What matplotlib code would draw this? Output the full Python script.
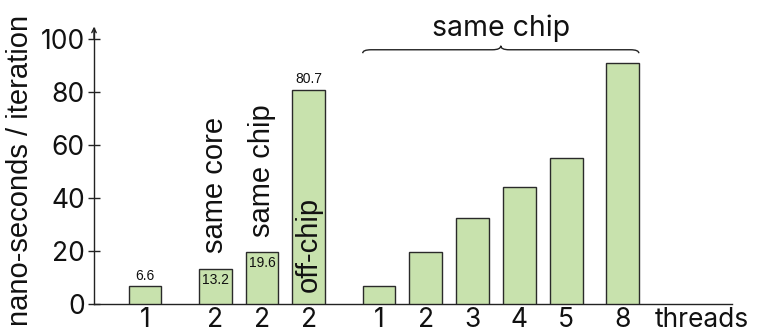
import matplotlib
matplotlib.use("Agg")
import matplotlib.pyplot as plt
from matplotlib.path import Path
from matplotlib.patches import PathPatch

plt.rcParams['font.family'] = ['Inter', 'DejaVu Sans']
ARIAL = ['Liberation Sans', 'DejaVu Sans']

# data
tick_labels = ['1', '2', '2', '2', '1', '2', '3', '4', '5', '8']
values = [6.6, 13.2, 19.6, 80.7, 6.6, 19.6, 32.3, 44.0, 55.0, 90.7]
value_labels = ['6.6', '13.2', '19.6', '80.7']
group_labels = ['same core', 'same chip', 'off-chip']
top_label = 'same chip'

# layout
positions = [0, 1.5, 2.5, 3.5, 5, 6, 7, 8, 9, 10.2]
bar_w = 0.7

W, H = 757, 332
fig = plt.figure(figsize=(W / 100, H / 100), dpi=100)
ax = fig.add_axes([94 / W, 28 / H, (732 - 94) / W, (304 - 28) / H])

ax.bar(positions, values, width=bar_w, color='#c8e2ad', edgecolor='#2a2a2a',
       linewidth=1.0, zorder=3)

ax.set_xlim(-1.09, 12.54)
ax.set_ylim(0, 104)
for s in ['top', 'right']:
    ax.spines[s].set_visible(False)
for s in ['left', 'bottom']:
    ax.spines[s].set_linewidth(1.0)
    ax.spines[s].set_color('#222222')

ax.set_yticks([0, 20, 40, 60, 80, 100])
ax.tick_params(axis='y', direction='inout', length=9, width=1.0,
               labelsize=19, pad=2, colors='#222222', labelcolor='#111111')
xt = positions + [11.9]
ax.set_xticks(xt)
ax.set_xticklabels(tick_labels + ['threads'])
ax.tick_params(axis='x', length=0, labelsize=19, pad=2, labelcolor='#111111')

# arrowhead on y axis
ax.annotate('', xy=(-1.09, 104.5), xytext=(-1.09, 100),
            arrowprops=dict(arrowstyle='->', lw=1.0, color='#222222',
                            shrinkA=0, shrinkB=0, mutation_scale=8),
            annotation_clip=False)

# value labels
vl = dict(ha='center', fontsize=10, family=ARIAL, color='#111111')
ax.text(positions[0], values[0] + 1.3, value_labels[0], va='bottom', **vl)
ax.text(positions[1], values[1] - 1.6, value_labels[1], va='top', **vl)
ax.text(positions[2], values[2] - 1.6, value_labels[2], va='top', **vl)
ax.text(positions[3], values[3] + 1.3, value_labels[3], va='bottom', **vl)

# rotated group labels
gl = dict(rotation=90, ha='center', va='bottom', fontsize=21, family=ARIAL, color='#111111')
ax.text(positions[1], 19.2, group_labels[0], **gl)
ax.text(positions[2], 25.2, group_labels[1], **gl)
ax.text(positions[3], 4.5, group_labels[2], **gl)

# curly brace over the second group
x0 = positions[4] - bar_w / 2
x1 = positions[9] + bar_w / 2
xc = (x0 + x1) / 2
yb, ym, yt = 94.5, 95.8, 97.3
d = 0.18
verts = [(x0, yb), (x0, ym), (x0 + d, ym),
         (xc - d, ym), (xc, ym), (xc, yt),
         (xc, ym), (xc + d, ym),
         (x1 - d, ym), (x1, ym), (x1, yb)]
codes = [Path.MOVETO, Path.CURVE3, Path.CURVE3,
         Path.LINETO, Path.CURVE3, Path.CURVE3,
         Path.CURVE3, Path.CURVE3,
         Path.LINETO, Path.CURVE3, Path.CURVE3]
ax.add_patch(PathPatch(Path(verts, codes), fill=False, lw=1.0,
                       edgecolor='#222222', clip_on=False))
ax.text(xc, 104, top_label, ha='center', va='center', fontsize=20.5, color='#111111')

fig.text(20 / W, 1 - 170 / H, 'nano-seconds / iteration', rotation=90,
         ha='center', va='center', fontsize=21, family=ARIAL, color='#111111')

fig.savefig('out.png', dpi=100)
